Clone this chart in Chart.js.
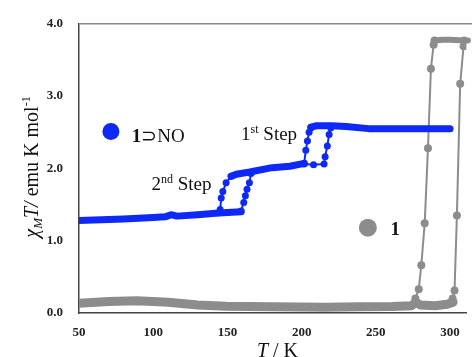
<!DOCTYPE html>
<html>
<head>
<meta charset="utf-8">
<script src="https://cdn.jsdelivr.net/npm/chart.js@4.4.1/dist/chart.umd.min.js"></script>
<style>
html,body{margin:0;padding:0;background:#fff;}
canvas{display:block;}
</style>
</head>
<body>
<canvas id="c" width="472" height="357"></canvas>
<script>
// ---- data (T in K, chi_M*T in emu K mol^-1) ----
// 1⊃NO (blue)
const blueLowT  = [50, 65, 80, 100, 108, 112, 116, 130, 142, 150, 159.2];
const blueLowV  = [1.28, 1.29, 1.30, 1.32, 1.33, 1.36, 1.34, 1.36, 1.38, 1.39, 1.40];
const blueHeat2T = [145.1, 145.8, 146.9, 149.1, 152.5];
const blueHeat2V = [1.43, 1.59, 1.68, 1.80, 1.89];
const blueMidT  = [152.5, 156, 165, 180, 192, 201.7];
const blueMidV  = [1.89, 1.92, 1.95, 2.01, 2.03, 2.07];
const blueHeat1T = [201.7, 202.8, 203.9, 205.0, 206.2];
const blueHeat1V = [2.07, 2.25, 2.38, 2.50, 2.56];
const blueHighT = [206.2, 210, 220, 230, 245, 270, 300];
const blueHighV = [2.57, 2.59, 2.59, 2.58, 2.55, 2.55, 2.55];
const blueCool1T = [219.6, 218.5, 217.3, 215.8, 215.1, 208, 201.7];
const blueCool1V = [2.56, 2.47, 2.31, 2.16, 2.06, 2.05, 2.06];
const blueCool2T = [165.9, 164.8, 163.2, 162.1, 161.0, 159.2, 150, 145];
const blueCool2V = [1.93, 1.80, 1.71, 1.62, 1.53, 1.41, 1.39, 1.39];
// 1 (gray)
const grayLowT  = [50, 70, 89, 110, 130, 149, 180, 216, 240, 261, 274, 277, 280, 290, 298, 302];
const grayLowV  = [0.135, 0.16, 0.17, 0.15, 0.11, 0.095, 0.085, 0.08, 0.085, 0.09, 0.10, 0.15, 0.11, 0.10, 0.12, 0.15];
const grayCoolT = [289.5, 288.9, 287.1, 285.1, 282.9, 280.6, 278.9, 276.6];
const grayCoolV = [3.77, 3.71, 3.38, 2.28, 1.24, 0.66, 0.33, 0.20];
const grayHeatT = [301.7, 303.0, 304.6, 306.8, 309.1, 309.5];
const grayHeatV = [0.20, 0.31, 1.35, 3.17, 3.69, 3.77];
const grayTopT  = [289.5, 295, 300, 309.5, 312];
const grayTopV  = [3.77, 3.78, 3.78, 3.77, 3.77];
// axis ticks
const xTicks = [50, 100, 150, 200, 250, 300];
const yTicks = [0.0, 1.0, 2.0, 3.0, 4.0];

const BLUE = 'rgb(14,40,245)';
const GRAY = 'rgb(140,140,140)';
const SERIF = '"Liberation Serif", "Times New Roman", serif';

const pts = (T, V) => T.map((t, i) => ({x: t, y: V[i]}));
const band = (T, V, color, w, clip) => ({data: pts(T, V), showLine: true, borderColor: color, borderWidth: w,
  pointRadius: 0, borderCapStyle: 'round', borderJoinStyle: 'round', tension: 0, clip: clip});
const loop = (T, V, color, r) => ({data: pts(T, V), showLine: true, borderColor: color, borderWidth: 2,
  pointRadius: r, pointBackgroundColor: color, pointBorderWidth: 0, tension: 0});

const datasets = [
  band(blueLowT, blueLowV, BLUE, 7, 0),
  loop(blueHeat2T, blueHeat2V, BLUE, 3.5),
  band(blueMidT, blueMidV, BLUE, 7, 0),
  loop(blueHeat1T, blueHeat1V, BLUE, 3.5),
  band(blueHighT, blueHighV, BLUE, 7, 0),
  loop(blueCool1T, blueCool1V, BLUE, 3.5),
  loop(blueCool2T, blueCool2V, BLUE, 3.5),
  band(grayLowT, grayLowV, GRAY, 9, 0),
  loop(grayCoolT, grayCoolV, GRAY, 4),
  loop(grayHeatT, grayHeatV, GRAY, 4),
  band(grayTopT, grayTopV, GRAY, 6, false),
];

function drawRuns(ctx, runs, x, y) {
  let cx = x;
  for (const r of runs) {
    ctx.font = r.font;
    ctx.fillText(r.t, cx, y + (r.dy || 0));
    cx += ctx.measureText(r.t).width;
  }
  return cx;
}
function runsWidth(ctx, runs) {
  let w = 0;
  for (const r of runs) { ctx.font = r.font; w += ctx.measureText(r.t).width; }
  return w;
}

const annot = {
  id: 'annot',
  afterDraw(chart) {
    const ctx = chart.ctx, xs = chart.scales.x, ys = chart.scales.y, a = chart.chartArea;
    ctx.save();
    // top frame line
    ctx.strokeStyle = '#8a8a8a'; ctx.lineWidth = 1.5;
    ctx.beginPath(); ctx.moveTo(a.left, a.top); ctx.lineTo(chart.width, a.top); ctx.stroke();

    ctx.textBaseline = 'alphabetic';
    // legend markers
    ctx.fillStyle = BLUE;
    ctx.beginPath(); ctx.arc(xs.getPixelForValue(71.5), ys.getPixelForValue(2.51), 8.5, 0, 2 * Math.PI); ctx.fill();
    ctx.fillStyle = GRAY;
    ctx.beginPath(); ctx.arc(xs.getPixelForValue(244.6), ys.getPixelForValue(1.18), 9, 0, 2 * Math.PI); ctx.fill();
    ctx.fillStyle = '#111';
    drawRuns(ctx, [{t: '1', font: 'bold 19px ' + SERIF}, {t: '⊃NO', font: '19px ' + SERIF}],
      xs.getPixelForValue(85.6), ys.getPixelForValue(2.37));
    drawRuns(ctx, [{t: '1', font: 'bold 19px ' + SERIF}],
      xs.getPixelForValue(259.9), ys.getPixelForValue(1.08));
    // step annotations
    drawRuns(ctx, [{t: '1', font: '19px ' + SERIF}, {t: 'st', font: '12px ' + SERIF, dy: -7}, {t: ' Step', font: '19px ' + SERIF}],
      xs.getPixelForValue(159.2), ys.getPixelForValue(2.39));
    drawRuns(ctx, [{t: '2', font: '19px ' + SERIF}, {t: 'nd', font: '12px ' + SERIF, dy: -7}, {t: ' Step', font: '19px ' + SERIF}],
      xs.getPixelForValue(98.8), ys.getPixelForValue(1.70));

    // x axis title
    const xr = [{t: 'T', font: 'italic 20px ' + SERIF}, {t: ' / K', font: '20px ' + SERIF}];
    const xw = runsWidth(ctx, xr);
    drawRuns(ctx, xr, 277.5 - xw / 2, 357);

    // y axis title
    const yr = [
      {t: 'χ', font: 'italic 20px ' + SERIF},
      {t: 'M', font: 'italic 13px ' + SERIF, dy: 4},
      {t: 'T/', font: 'italic 20px ' + SERIF},
      {t: ' emu K mol', font: '20px ' + SERIF},
      {t: '-1', font: '12px ' + SERIF, dy: -8},
    ];
    const yw = runsWidth(ctx, yr);
    ctx.translate(38, 167);
    ctx.rotate(-Math.PI / 2);
    drawRuns(ctx, yr, -yw / 2, 0);
    ctx.restore();
  }
};

new Chart(document.getElementById('c'), {
  type: 'scatter',
  data: {datasets},
  options: {
    responsive: false,
    animation: false,
    layout: {padding: {top: 17, right: 0, left: 0, bottom: 0}},
    plugins: {legend: {display: false}, tooltip: {enabled: false}},
    scales: {
      x: {
        type: 'linear', min: 50, max: 311,
        grid: {display: false, drawTicks: false},
        border: {display: true, color: '#444', width: 1.5},
        afterBuildTicks: s => { s.ticks = xTicks.map(v => ({value: v})); },
        ticks: {padding: 12, maxRotation: 0, color: '#222',
          font: {family: SERIF, size: 13, weight: 'bold'}},
        afterFit: s => { s.height = 44; }
      },
      y: {
        type: 'linear', min: 0, max: 4,
        grid: {display: false, drawTicks: false},
        border: {display: true, color: '#444', width: 1.5},
        afterBuildTicks: s => { s.ticks = yTicks.map(v => ({value: v})); },
        ticks: {padding: 16, color: '#222', callback: v => Number(v).toFixed(1),
          font: {family: SERIF, size: 13, weight: 'bold'}},
        afterFit: s => { s.width = 79; }
      }
    }
  },
  plugins: [annot]
});
</script>
</body>
</html>
